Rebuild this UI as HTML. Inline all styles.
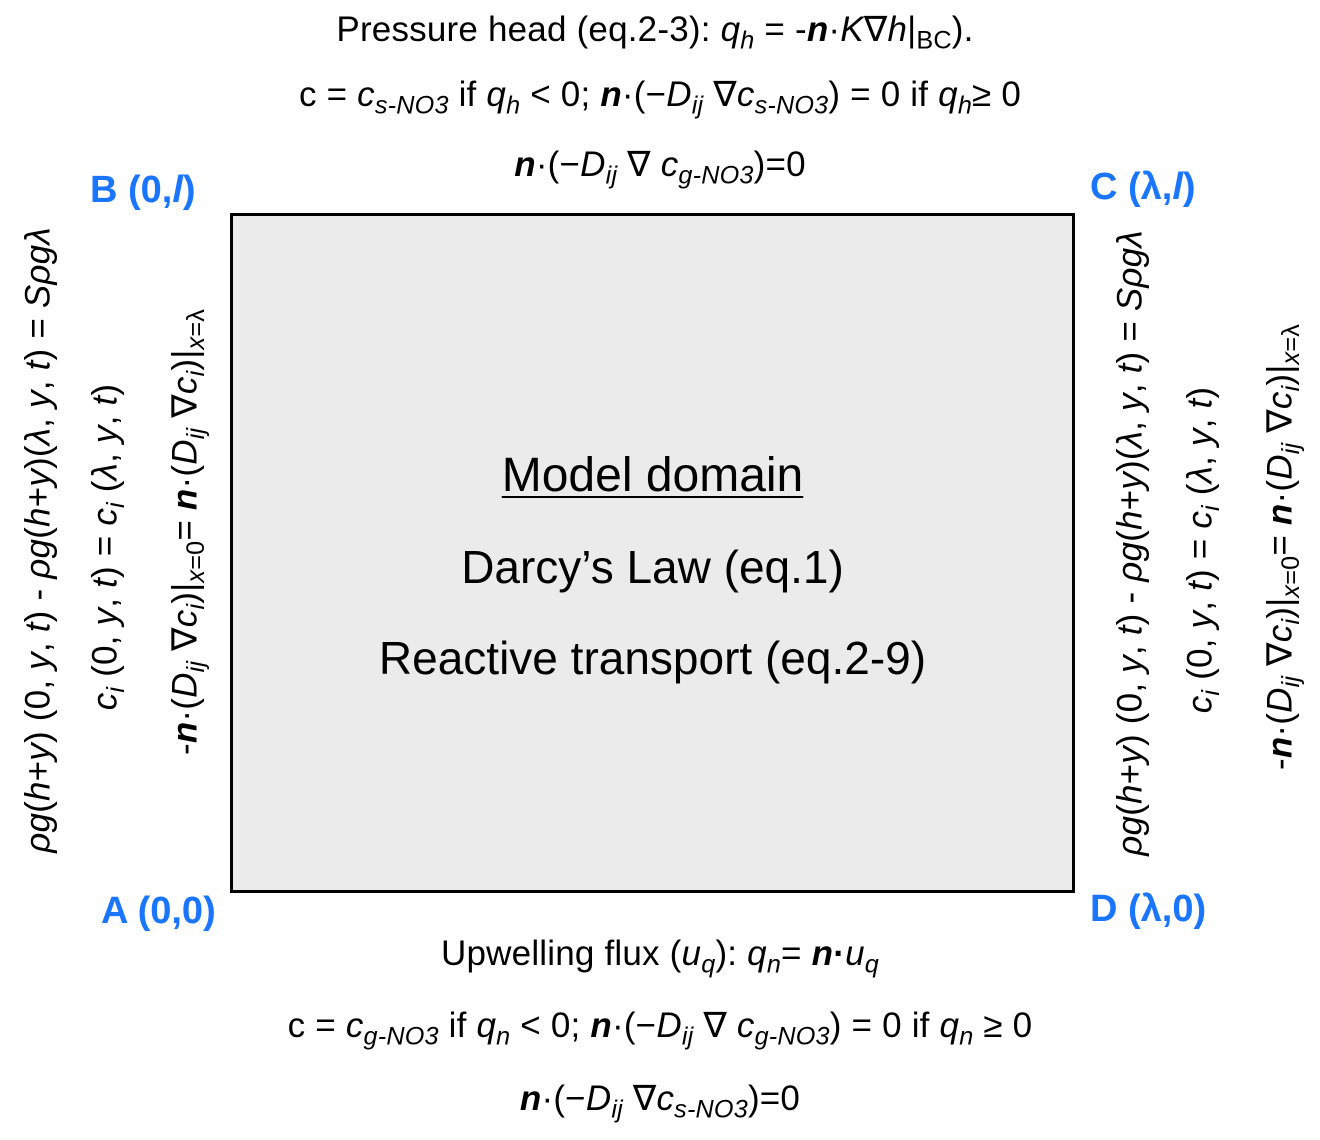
<!DOCTYPE html>
<html><head><meta charset="utf-8">
<style>
body{margin:0;width:1320px;height:1140px;background:#fff;position:relative;overflow:hidden;font-family:"Liberation Sans",sans-serif;color:#000}
.t{position:absolute;left:0;width:1320px;text-align:center;white-space:nowrap;line-height:1;font-size:35px;letter-spacing:0.2px}
.r{position:absolute;white-space:nowrap;line-height:1;font-size:35px;letter-spacing:0.2px;transform:translate(-50%,-50%) rotate(-90deg)}
.b{position:absolute;color:#1a75ff;font-weight:bold;font-size:38px;white-space:nowrap;line-height:1}
sub{font-size:0.72em;vertical-align:-0.3em;line-height:0}
i{font-style:italic}
#box{position:absolute;left:230px;top:213px;width:839px;height:674px;border:3px solid #000;background:#ebebeb}
.m{position:absolute;left:230px;width:845px;text-align:center;font-size:46px;line-height:1;white-space:nowrap}
</style></head><body>
<div class="t" style="top:12px;left:-5px">Pressure head (eq.2-3): <i>q<sub>h</sub></i> = -<b><i>n</i></b>·<i>K</i>∇<i>h</i>|<sub>BC</sub>).</div>
<div class="t" style="top:77px">c = <i>c<sub>s-NO3</sub></i> if <i>q<sub>h</sub></i> &lt; 0; <b><i>n</i></b>·(−<i>D<sub>ij</sub></i> ∇<i>c<sub>s-NO3</sub></i>) = 0 if <i>q<sub>h</sub></i>≥ 0</div>
<div class="t" style="top:147px">  <b><i>n</i></b>·(−<i>D<sub>ij</sub></i> ∇ <i>c<sub>g-NO3</sub></i>)=0</div>

<div class="b" style="left:90px;top:171px">B (0,<i>l</i>)</div>
<div class="b" style="left:1090px;top:168px">C (λ,<i>l</i>)</div>
<div class="b" style="left:101px;top:892px">A (0,0)</div>
<div class="b" style="left:1090px;top:890px">D (λ,0)</div>

<div id="box"></div>
<div class="m" style="top:452px;font-size:48px"><span style="text-decoration:underline;text-underline-offset:5px;text-decoration-thickness:2px">Model domain</span></div>
<div class="m" style="top:544px">Darcy’s Law (eq.1)</div>
<div class="m" style="top:635px">Reactive transport (eq.2-9)</div>

<div class="r" style="left:38px;top:540px"><i>ρg</i>(<i>h</i>+<i>y</i>) (0, <i>y</i>, <i>t</i>) - <i>ρg</i>(<i>h</i>+<i>y</i>)(<i>λ</i>, <i>y</i>, <i>t</i>) = <i>Sρgλ</i></div>
<div class="r" style="left:105px;top:547px"><i>c<sub>i</sub></i> (0, <i>y</i>, <i>t</i>) = <i>c<sub>i</sub></i> (<i>λ</i>, <i>y</i>, <i>t</i>)</div>
<div class="r" style="left:185px;top:532px">-<b><i>n</i></b>·(<i>D<sub>ij</sub></i> ∇<i>c<sub>i</sub></i>)|<sub><i>x</i>=0</sub>= <b><i>n</i></b>·(<i>D<sub>ij</sub></i> ∇<i>c<sub>i</sub></i>)|<sub><i>x</i>=λ</sub></div>

<div class="r" style="left:1130px;top:543px"><i>ρg</i>(<i>h</i>+<i>y</i>) (0, <i>y</i>, <i>t</i>) - <i>ρg</i>(<i>h</i>+<i>y</i>)(<i>λ</i>, <i>y</i>, <i>t</i>) = <i>Sρgλ</i></div>
<div class="r" style="left:1200px;top:550px"><i>c<sub>i</sub></i> (0, <i>y</i>, <i>t</i>) = <i>c<sub>i</sub></i> (<i>λ</i>, <i>y</i>, <i>t</i>)</div>
<div class="r" style="left:1280px;top:547px">-<b><i>n</i></b>·(<i>D<sub>ij</sub></i> ∇<i>c<sub>i</sub></i>)|<sub><i>x</i>=0</sub>= <b><i>n</i></b>·(<i>D<sub>ij</sub></i> ∇<i>c<sub>i</sub></i>)|<sub><i>x</i>=λ</sub></div>

<div class="t" style="top:936px">Upwelling flux (<i>u<sub>q</sub></i>): <i>q<sub>n</sub></i>= <b><i>n</i>·</b><i>u<sub>q</sub></i></div>
<div class="t" style="top:1008px">c = <i>c<sub>g-NO3</sub></i> if <i>q<sub>n</sub></i> &lt; 0; <b><i>n</i></b>·(−<i>D<sub>ij</sub></i> ∇ <i>c<sub>g-NO3</sub></i>) = 0 if <i>q<sub>n</sub></i> ≥ 0</div>
<div class="t" style="top:1081px"><b><i>n</i></b>·(−<i>D<sub>ij</sub></i> ∇<i>c<sub>s-NO3</sub></i>)=0</div>
</body></html>
